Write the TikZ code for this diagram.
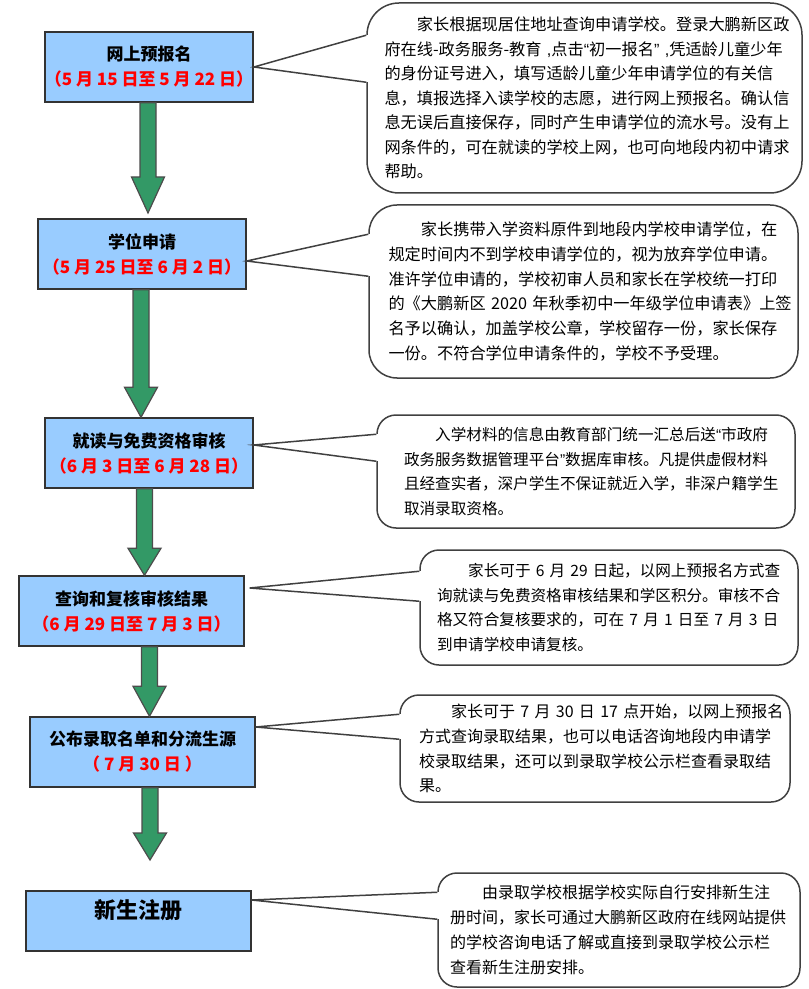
\documentclass[tikz,border=0pt]{standalone}
\usepackage{fontspec}
\setmainfont{Noto Sans CJK SC}
\newfontfamily\westfont{Liberation Sans}
\usepackage{xcolor}
\usetikzlibrary{calc}

\definecolor{boxblue}{HTML}{99CCFF}
\definecolor{arrowgreen}{HTML}{339966}
\definecolor{datered}{HTML}{FF0000}

\tikzset{
  stepbox/.style={draw=black!80, line width=0.7pt, fill=boxblue, align=center,
    inner sep=0pt, font=\fontsize{8.5}{12.5}\selectfont\bfseries},
  bubble/.style={draw=black!75, line width=0.75pt, fill=white, align=left,
    inner sep=0pt, font=\fontsize{7.8}{12.4}\selectfont},
  garrow/.style={draw=black!70, line width=0.6pt, fill=arrowgreen},
  wedge/.style={draw=black!75, line width=0.75pt},
}

% block arrow: start, tip, head length
\newcommand{\garrow}[3]{%
  \draw[garrow] let \p1=(#1), \p2=(#2) in
    (\x1-4pt,\y1) -- (\x1-4pt,\y2+#3) -- (\x1-8.25pt,\y2+#3) -- (\x1,\y2)
    -- (\x1+8.25pt,\y2+#3) -- (\x1+4pt,\y2+#3) -- (\x1+4pt,\y1) -- cycle;}
\newcommand{\dates}[1]{\textcolor{datered}{#1}}
\newcommand{\qopen}{{\westfont “}}
\newcommand{\qclose}{{\westfont ”}}
\newcommand{\ncomma}{{\westfont\ ,}}

\begin{document}
\begin{tikzpicture}[x=0.5pt,y=-0.5pt]
    \useasboundingbox (0,0) rectangle (808,989);

    % steps
    \node[stepbox, minimum width=104pt, minimum height=35pt] (apply) at (149,67)
        {网上预报名\\\dates{（5 月 15 日至 5 月 22 日）}};
    \node[stepbox, minimum width=104pt, minimum height=35pt] (seat) at (142,254)
        {学位申请\\\dates{（5 月 25 日至 6 月 2 日）}};
    \node[stepbox, minimum width=104pt, minimum height=35pt] (review) at (149,453)
        {就读与免费资格审核\\\dates{（6 月 3 日至 6 月 28 日）}};
    \node[stepbox, minimum width=112.5pt, minimum height=35pt] (query) at (131.5,611)
        {查询和复核审核结果\\\dates{（6 月 29 日至 7 月 3 日）}};
    \node[stepbox, minimum width=112.5pt, minimum height=35pt] (admit) at (142.5,752)
        {公布录取名单和分流生源\\\dates{（ 7 月 30 日 ）}};
    \node[stepbox, minimum width=112.5pt, minimum height=30pt, text depth=12pt,
        font=\fontsize{11}{14}\selectfont\bfseries] (enrol) at (138.5,921) {新生注册};

    % arrows
    \coordinate (t1) at (148,213);
    \coordinate (t5) at (150,860);
    \garrow{[xshift=-0.5pt]apply.south}{t1}{18pt}
    \garrow{[xshift=-0.5pt]seat.south}{review.north}{15pt}
    \garrow{[xshift=-2.25pt]review.south}{query.north}{13.5pt}
    \garrow{[xshift=9pt]query.south}{admit.north}{15pt}
    \garrow{[xshift=3.75pt]admit.south}{t5}{13.5pt}

    % notes
    \node[bubble, text width=200pt, minimum width=217.5pt, minimum height=95pt,
        rounded corners=16pt, font=\fontsize{8.1}{12.25}\selectfont] (applynote) at (584.5,98)
        {\hspace*{2em}家长根据现居住地址查询申请学校。登录大鹏新区政\\
         \mbox{府在线-政务服务-教育\ncomma 点击\qopen 初一报名\qclose\ncomma 凭适龄儿童少年}\\
         的身份证号进入，填写适龄儿童少年申请学位的有关信\\
         息，填报选择入读学校的志愿，进行网上预报名。确认信\\
         息无误后直接保存，同时产生申请学位的流水号。没有上\\
         网条件的，可在就读的学校上网，也可向地段内初中请求\\
         帮助。};
    \node[bubble, text width=195pt, minimum width=214.5pt, minimum height=86.5pt,
        rounded corners=14pt, font=\fontsize{8.1}{12.4}\selectfont] (seatnote) at (583.5,291.5)
        {\hspace*{2em}家长携带入学资料原件到地段内学校申请学位，在\\
         规定时间内不到学校申请学位的，视为放弃学位申请。\\
         准许学位申请的，学校初审人员和家长在学校统一打印\\
         的《大鹏新区~2020~年秋季初中一年级学位申请表》上签\\
         名予以确认，加盖学校公章，学校留存一份，家长保存\\
         一份。不符合学位申请条件的，学校不予受理。};
    \node[bubble, text width=182pt, minimum width=209pt, minimum height=56.5pt,
        rounded corners=9.5pt] (reviewnote) at (586,471.5)
        {\hspace*{2em}入学材料的信息由教育部门统一汇总后送\qopen 市政府\\
         政务服务数据管理平台\qclose 数据库审核。凡提供虚假材料\\
         且经查实者，深户学生不保证就近入学，非深户籍学生\\
         取消录取资格。};
    \node[bubble, text width=172pt, minimum width=189pt, minimum height=57.5pt,
        rounded corners=9.5pt] (querynote) at (609,607.5)
        {\hspace*{2em}家长可于~6~月~29~日起，以网上预报名方式查\\
         询就读与免费资格审核结果和学区积分。审核不合\\
         格又符合复核要求的，可在~7~月~1~日至~7~月~3~日\\
         到申请学校申请复核。};
    \node[bubble, text width=176pt, minimum width=195pt, minimum height=53.5pt,
        rounded corners=9.5pt, font=\fontsize{8}{12.4}\selectfont] (admitnote) at (595,748.5)
        {\hspace*{2em}家长可于~7~月~30~日~17~点开始，以网上预报名\\
         方式查询录取结果，也可以电话咨询地段内申请学\\
         校录取结果，还可以到录取学校公示栏查看录取结\\
         果。};
    \node[bubble, text width=169pt, minimum width=181pt, minimum height=57pt,
        rounded corners=9.5pt, font=\fontsize{8}{12.4}\selectfont] (enrolnote) at (619,930)
        {\hspace*{2em}由录取学校根据学校实际自行安排新生注\\
         册时间，家长可通过大鹏新区政府在线网站提供\\
         的学校咨询电话了解或直接到录取学校公示栏\\
         查看新生注册安排。};

    % pointers from steps to notes
    \foreach \src/\dst/\ya/\yb/\ts/\xs in {apply/applynote/16.5/40/0/0,
        seat/seatnote/15/36/-3.5/0, review/reviewnote/10/23.5/4/0,
        query/querynote/11/26/11.5/2.5, admit/admitnote/10/22.5/12.5/0,
        enrol/enrolnote/10/23.5/10.5/0}{
      \fill[white] ([yshift=-\ya pt]\dst.north west) -- ([xshift=\xs pt,yshift=\ts pt]\src.east)
          -- ([yshift=-\yb pt]\dst.north west) -- cycle;
      \draw[white, line width=1.5pt] ([yshift=-\ya pt]\dst.north west) -- ([yshift=-\yb pt]\dst.north west);
      \draw[wedge] ([yshift=-\ya pt]\dst.north west) -- ([xshift=\xs pt,yshift=\ts pt]\src.east)
          -- ([yshift=-\yb pt]\dst.north west);
    }
\end{tikzpicture}
\end{document}
